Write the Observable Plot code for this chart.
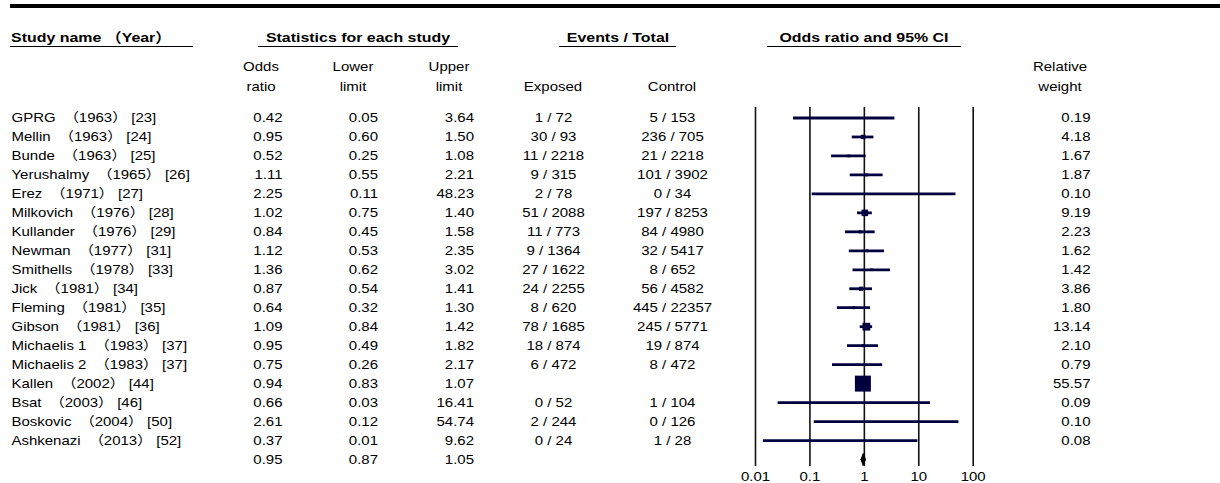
<!DOCTYPE html>
<html><head><meta charset="utf-8">
<script src="https://cdn.jsdelivr.net/npm/d3@7"></script>
<script src="https://cdn.jsdelivr.net/npm/@observablehq/plot@0.6"></script>
<style>
body{margin:0;background:#fff;}
#wrap{width:1220px;position:relative;}
#head{position:relative;width:1220px;height:100px;font-family:"Liberation Sans",Arial,"Noto Sans CJK SC",sans-serif;color:#000;}
.t{position:absolute;white-space:nowrap;font-size:12.7px;line-height:15px;}
.c{transform-origin:center;transform:translateX(-50%) scaleX(1.18);}
.l{transform-origin:left center;transform:scaleX(1.18);}
.b{font-weight:bold;font-size:13.5px;}
.rule{position:absolute;background:#000;}
#chart svg{display:block;}
</style></head><body>
<div id="wrap"><div id="head"></div><div id="chart"></div></div>
<script>
// ---- data ----
const studyNames = ["GPRG","Mellin","Bunde","Yerushalmy","Erez","Milkovich","Kullander","Newman","Smithells","Jick","Fleming","Gibson","Michaelis 1","Michaelis 2","Kallen","Bsat","Boskovic","Ashkenazi"];
const years = [1963,1963,1963,1965,1971,1976,1976,1977,1978,1981,1981,1981,1983,1983,2002,2003,2004,2013];
const refs = [23,24,25,26,27,28,29,31,33,34,35,36,37,37,44,46,50,52];
const oddsRatio = [0.42,0.95,0.52,1.11,2.25,1.02,0.84,1.12,1.36,0.87,0.64,1.09,0.95,0.75,0.94,0.66,2.61,0.37];
const lowerLimit = [0.05,0.60,0.25,0.55,0.11,0.75,0.45,0.53,0.62,0.54,0.32,0.84,0.49,0.26,0.83,0.026,0.12,0.014];
const upperLimit = [3.64,1.50,1.08,2.21,48.23,1.40,1.58,2.35,3.02,1.41,1.30,1.42,1.82,2.17,1.07,16.41,54.74,9.62];
const exposedEvents = [1,30,11,9,2,51,11,9,27,24,8,78,18,6,null,0,2,0];
const exposedTotal = [72,93,2218,315,78,2088,773,1364,1622,2255,620,1685,874,472,null,52,244,24];
const controlEvents = [5,236,21,101,0,197,84,32,8,56,445,245,19,8,null,1,0,1];
const controlTotal = [153,705,2218,3902,34,8253,4980,5417,652,4582,22357,5771,874,472,null,104,126,28];
const weights = [0.19,4.18,1.67,1.87,0.10,9.19,2.23,1.62,1.42,3.86,1.80,13.14,2.10,0.79,55.57,0.09,0.10,0.08];
const summaryOR = 0.95, summaryLower = 0.87, summaryUpper = 1.05;
const axisTicks = [0.01, 0.1, 1, 10, 100];
const groupHeaders = ["Study name （Year）", "Statistics for each study", "Events / Total", "Odds ratio and 95% CI"];
const columnHeaders = [["Odds","ratio"],["Lower","limit"],["Upper","limit"],["","Exposed"],["","Control"],["Relative","weight"]];

// ---- layout (pixels) ----
const SX = 1.18;
const NAVY = "#00003f";
const groupLayout = [
  {x:11, align:"l", line:[10,193]},
  {x:358, align:"c", line:[258,458]},
  {x:618, align:"c", line:[559,676]},
  {x:863.5, align:"c", line:[767,961]}
];
const colHeadX = [260.5, 353, 449, 552.5, 672, 1060];

// ---- header ----
const head = document.getElementById("head");
const bar = document.createElement("div");
bar.className = "rule"; Object.assign(bar.style, {left:"10px", top:"4px", width:"1210px", height:"4px"});
head.appendChild(bar);
groupHeaders.forEach((h, k) => {
  const L = groupLayout[k];
  const d = document.createElement("div");
  d.className = "t b " + L.align; d.textContent = h;
  d.style.left = L.x + "px"; d.style.top = "30px";
  head.appendChild(d);
  const u = document.createElement("div");
  u.className = "rule";
  Object.assign(u.style, {left: L.line[0]+"px", top:"45.6px", width:(L.line[1]-L.line[0])+"px", height:"1.3px"});
  head.appendChild(u);
});
columnHeaders.forEach((lines, k) => {
  lines.forEach((s, j) => {
    if (!s) return;
    const d = document.createElement("div");
    d.className = "t c"; d.textContent = s;
    d.style.left = colHeadX[k] + "px"; d.style.top = (j === 0 ? 59.6 : 79.6) + "px";
    head.appendChild(d);
  });
});

// ---- table ----
const fmt = v => v.toFixed(2);
const rows = studyNames.map((n, i) => ({
  i,
  label: `${n}\u00A0 （${years[i]}） [${refs[i]}]`,
  or: oddsRatio[i], lo: lowerLimit[i], hi: upperLimit[i],
  exp: exposedEvents[i] == null ? "" : `${exposedEvents[i]} / ${exposedTotal[i]}`,
  ctl: controlEvents[i] == null ? "" : `${controlEvents[i]} / ${controlTotal[i]}`,
  w: weights[i]
}));
const sumIdx = studyNames.length;
const statRows = [...rows, {i: sumIdx, or: summaryOR, lo: summaryLower, hi: summaryUpper}];
const half = 0.316;
const diamond = [
  {x: summaryLower, y: sumIdx}, {x: summaryOR, y: sumIdx - half},
  {x: summaryUpper, y: sumIdx}, {x: summaryOR, y: sumIdx + half}, {x: summaryLower, y: sumIdx}
];
const wMax = d3.max(weights);

const plot = Plot.plot({
  width: 1220, height: 383,
  marginTop: 7, marginBottom: 17, marginLeft: 0, marginRight: 0,
  style: {fontFamily: "'Liberation Sans', Arial, 'Noto Sans CJK SC', sans-serif", fontSize: "12.7px", color: "#000", background: "#fff", overflow: "visible"},
  x: {type: "log", domain: [0.01, 100], range: [755, 972.7], ticks: axisTicks, tickFormat: d => String(d), tickSize: 0, tickPadding: 5, label: null},
  y: {type: "linear", domain: [0, 18], range: [17.5, 359], axis: null},
  r: {type: "sqrt", domain: [0, wMax], range: [0, 1.21 * Math.sqrt(wMax)]},
  marks: [
    Plot.ruleX(axisTicks, {stroke: "#111", strokeWidth: 1.6}),
    Plot.ruleY(rows, {y: "i", x1: "lo", x2: "hi", stroke: NAVY, strokeWidth: 2.8}),
    Plot.dot(rows, {x: "or", y: "i", r: "w", symbol: "square", fill: NAVY, stroke: "none"}),
    Plot.line(diamond, {x: "x", y: "y", fill: "#000", stroke: "#000", strokeWidth: 1}),
    Plot.text(rows, {y: "i", text: "label", frameAnchor: "left", dx: 11, textAnchor: "start", fill: "#000"}),
    Plot.text(statRows, {y: "i", text: d => fmt(d.or), frameAnchor: "left", dx: 282, textAnchor: "end", fill: "#000"}),
    Plot.text(statRows, {y: "i", text: d => fmt(d.lo), frameAnchor: "left", dx: 377.5, textAnchor: "end", fill: "#000"}),
    Plot.text(statRows, {y: "i", text: d => fmt(d.hi), frameAnchor: "left", dx: 473.5, textAnchor: "end", fill: "#000"}),
    Plot.text(rows, {y: "i", text: "exp", frameAnchor: "left", dx: 553, textAnchor: "middle", fill: "#000"}),
    Plot.text(rows, {y: "i", text: "ctl", frameAnchor: "left", dx: 672, textAnchor: "middle", fill: "#000"}),
    Plot.text(rows, {y: "i", text: d => fmt(d.w), frameAnchor: "left", dx: 1090, textAnchor: "end", fill: "#000"})
  ]
});

// horizontally stretch glyphs about their anchor point (x offsets moved into the transform; y offsets kept)
plot.querySelectorAll("text").forEach(t => {
  const x = t.getAttribute("x");
  let pre = t.getAttribute("transform") || "";
  if (x != null && parseFloat(x)) {
    pre += ` translate(${parseFloat(x)},0)`;
    t.removeAttribute("x");
  }
  t.setAttribute("transform", `${pre} scale(${SX},1)`);
});
document.getElementById("chart").appendChild(plot);
</script></body></html>
